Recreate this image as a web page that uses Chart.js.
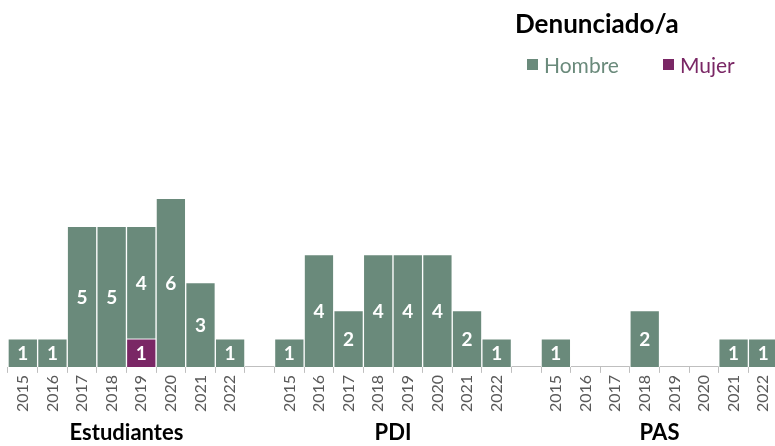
<!DOCTYPE html>
<html lang="es">
<head>
<meta charset="utf-8">
<title>Denunciado/a por colectivo y año</title>
<script src="https://cdn.jsdelivr.net/npm/chart.js@4.4.1/dist/chart.umd.min.js"></script>
<style>
  html, body { margin: 0; padding: 0; background: #fff; overflow: hidden; }
  #wrap { position: relative; width: 786px; height: 446px; }
  #legend { position: absolute; left: 515px; top: 6px; font-family: Lato, sans-serif; }
  #legend .title { font-weight: 700; font-size: 26px; line-height: 34px; color: #000; }
  #legend .items { margin-top: 12px; margin-left: 12px; display: flex; align-items: center; font-size: 21px; }
  #legend .item { display: flex; align-items: center; margin-right: 44px; }
  #legend .box { width: 11px; height: 11px; margin-right: 6px; }
</style>
</head>
<body>
<div id="wrap">
  <canvas id="chart" width="786" height="446"></canvas>
  <div id="legend"></div>
</div>
<script>
// --- DATA ---
const years = ['2015', '2016', '2017', '2018', '2019', '2020', '2021', '2022'];
const groups = ['Estudiantes', 'PDI', 'PAS'];

// Hombre counts per group, one value per year (null = no bar)
const hombreEstudiantes = [1, 1, 5, 5, 4, 6, 3, 1];
const hombrePDI        = [1, 4, 2, 4, 4, 4, 2, 1];
const hombrePAS        = [1, null, null, 2, null, null, 1, 1];

// Mujer counts per group
const mujerEstudiantes = [null, null, null, null, 1, null, null, null];
const mujerPDI         = [null, null, null, null, null, null, null, null];
const mujerPAS         = [null, null, null, null, null, null, null, null];

const seriesNames = ['Hombre', 'Mujer'];
const seriesColors = ['#6a8a7b', '#7a2765'];

// --- BUILD CATEGORY AXIS (one empty slot between groups) ---
function joinGroups(parts) {
    const out = [];
    parts.forEach((p, i) => {
        if (i > 0) out.push(null);
        out.push(...p);
    });
    return out;
}

const labels = [];
const groupRanges = [];
groups.forEach((g, i) => {
    if (i > 0) labels.push('');
    groupRanges.push([labels.length, labels.length + years.length - 1]);
    labels.push(...years);
});

const hombreData = joinGroups([hombreEstudiantes, hombrePDI, hombrePAS]);
const mujerData = joinGroups([mujerEstudiantes, mujerPDI, mujerPAS]);

// --- LEGEND (HTML) ---
const legendEl = document.getElementById('legend');
legendEl.innerHTML = `<div class="title">Denunciado/a</div>
  <div class="items">${seriesNames.map((n, i) =>
    `<div class="item" style="color:${seriesColors[i]}"><span class="box" style="background:${seriesColors[i]}"></span>${n}</div>`
  ).join('')}</div>`;

// --- PLUGINS ---
// white value labels centred inside each bar segment
const valueLabels = {
    id: 'valueLabels',
    afterDatasetsDraw(chart) {
        const ctx = chart.ctx;
        ctx.save();
        ctx.fillStyle = '#ffffff';
        ctx.font = '700 19px Lato, sans-serif';
        ctx.textAlign = 'center';
        ctx.textBaseline = 'middle';
        chart.data.datasets.forEach((ds, di) => {
            chart.getDatasetMeta(di).data.forEach((bar, i) => {
                const v = ds.data[i];
                if (v == null) return;
                ctx.fillText(String(v), bar.x, (bar.y + bar.base) / 2 + 1);
            });
        });
        ctx.restore();
    }
};

// group names under the year labels
const groupLabels = {
    id: 'groupLabels',
    afterDraw(chart) {
        const x = chart.scales.x;
        const ctx = chart.ctx;
        ctx.save();
        ctx.fillStyle = '#000000';
        ctx.font = '700 22px Lato, sans-serif';
        ctx.textAlign = 'center';
        ctx.textBaseline = 'middle';
        groups.forEach((g, i) => {
            const [a, b] = groupRanges[i];
            const cx = (x.getPixelForValue(a) + x.getPixelForValue(b)) / 2;
            ctx.fillText(g, cx, x.bottom + 19);
        });
        ctx.restore();
    }
};

// --- CHART ---
new Chart(document.getElementById('chart'), {
    type: 'bar',
    data: {
        labels: labels,
        datasets: [
            { label: seriesNames[1], data: mujerData, backgroundColor: seriesColors[1] },
            { label: seriesNames[0], data: hombreData, backgroundColor: seriesColors[0] }
        ]
    },
    options: {
        responsive: false,
        animation: false,
        events: [],
        datasets: {
            bar: { categoryPercentage: 1, barPercentage: 1, borderWidth: 1, borderColor: '#ffffff' }
        },
        layout: { padding: { top: 86, left: 8, right: 8, bottom: 32 } },
        plugins: { legend: { display: false }, tooltip: { enabled: false } },
        scales: {
            x: {
                stacked: true,
                offset: true,
                grid: { display: true, drawOnChartArea: false, drawTicks: true, tickLength: 6, color: '#bfbfbf' },
                border: { display: true, color: '#bfbfbf' },
                ticks: {
                    autoSkip: false, minRotation: 90, maxRotation: 90, padding: 2,
                    color: '#595959', font: { family: 'Lato, sans-serif', size: 16 }
                }
            },
            y: { stacked: true, display: false, min: 0, max: 10 }
        }
    },
    plugins: [valueLabels, groupLabels]
});
</script>
</body>
</html>
